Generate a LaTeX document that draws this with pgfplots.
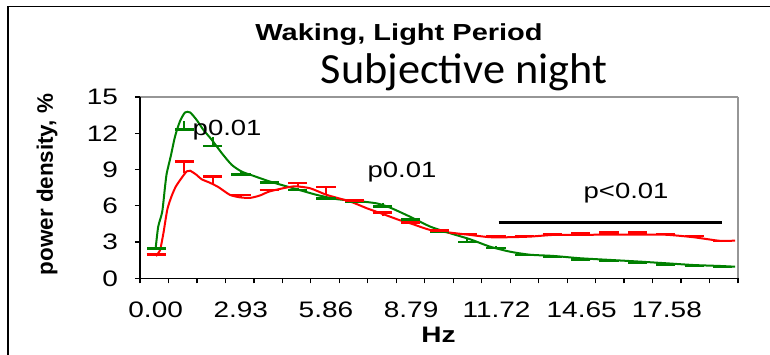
\documentclass[border=0pt]{standalone}
\usepackage{fontspec}
\setmainfont{Liberation Sans}[FakeStretch=1.25]
\newfontfamily\plainsans{Liberation Sans}
\newfontfamily\subjfont{Carlito}[FakeStretch=1.03]
\usepackage{pgfplots}
\pgfplotsset{compat=1.18}
\definecolor{xlgreen}{RGB}{0,128,0}
\definecolor{xlred}{RGB}{255,0,0}
\definecolor{framegray}{RGB}{150,150,150}

\begin{document}
\begin{tikzpicture}
\useasboundingbox (-70pt,-37.85pt) rectangle (315pt,139.15pt);
\draw[line width=0.6pt] (-66pt,-60pt) -- (-66pt,135.9pt) -- (340pt,135.9pt);

\begin{axis}[
    scale only axis,
    width=299pt, height=90.65pt,
    xmin=0, xmax=21, ymin=0, ymax=15,
    axis line style={draw=none},
    tick align=outside,
    xtick pos=left, ytick pos=left,
    xtick={0,1,...,21},
    xticklabels={},
    extra x ticks={0.55,3.54,6.53,9.52,12.52,15.51,18.5},
    extra x tick labels={0.00,2.93,5.86,8.79,11.72,14.65,17.58},
    extra x tick style={major tick length=0pt, tick style={draw=none}},
    ytick={0,3,...,15},
    major tick length=2.5pt,
    tick style={black, line width=0.6pt},
    /pgf/number format/assume math mode=true,
    ticklabel style={font=\fontsize{11.2}{13}\selectfont},
    xticklabel style={yshift=-8pt},
    yticklabel style={xshift=-5pt},
    clip=false,
]
\draw[framegray, line width=0.8pt] (axis cs:0,15) -- (axis cs:21,15);
\draw[framegray, line width=1.2pt] (axis cs:21,15) -- (axis cs:21,0);
\draw[black, line width=0.7pt] (axis cs:0,15) -- (axis cs:0,0) -- (axis cs:21,0);

% green curve
\addplot[xlgreen, line width=1pt, smooth, tension=0.4] coordinates {
    (0.55,2.49) (0.64,4.28) (0.78,5.5) (0.88,7.6) (0.94,8.7) (1.08,10.1)
    (1.23,11.73) (1.40,12.97) (1.58,13.72) (1.76,13.72) (1.99,13.1)
    (2.22,12.3) (2.52,11.46) (2.87,10.36) (3.22,9.39) (3.57,8.83)
    (3.98,8.48) (4.57,8.0) (5.38,7.45) (6.21,6.9) (6.91,6.55) (7.61,6.4)
    (8.31,6.2) (8.78,5.85) (9.48,5.1) (10.19,4.28) (10.89,3.73)
    (11.59,3.23) (12.29,2.62) (13.0,2.2) (13.70,1.95) (14.52,1.85)
    (15.45,1.66) (16.51,1.52) (17.56,1.38) (18.5,1.24) (19.43,1.1)
    (20.37,1.02) (20.9,0.96)
};

% red curve
\addplot[xlred, line width=1pt, smooth, tension=0.4] coordinates {
    (0.56,1.85) (0.70,2.3) (0.82,3.7) (0.96,5.7) (1.11,6.8) (1.26,7.6)
    (1.46,8.3) (1.64,8.85) (1.76,8.9) (1.99,8.55) (2.16,8.2) (2.46,7.9)
    (2.75,7.55) (3.16,6.9) (3.51,6.7) (3.86,6.65) (4.21,6.85) (4.57,7.2)
    (5.38,7.6) (5.97,7.45) (6.56,6.9) (7.38,6.35) (7.96,5.8) (8.55,5.3)
    (9.13,4.8) (9.48,4.56) (10.19,4.0) (10.89,3.78) (11.59,3.59)
    (12.29,3.4) (13.0,3.4) (13.70,3.45) (14.52,3.59) (15.45,3.59)
    (16.51,3.62) (17.56,3.62) (18.5,3.6) (19.43,3.4) (20.37,3.1)
    (20.9,3.12)
};

% green error bars (minus)
\addplot[draw=none, mark=none,
    error bars/.cd, y dir=minus, y explicit,
    error bar style={draw=xlgreen, solid, line width=1pt},
    error mark options={rotate=90, draw=xlgreen, mark size=4.8pt, line width=1.3pt}]
coordinates {
    (0.57,2.52) +- (0,0.04)  (1.56,13.0) +- (0,0.7)  (2.55,11.7) +- (0,0.75)
    (3.55,8.85) +- (0,0.25)  (4.54,8.05) +- (0,0.14) (5.54,7.45) +- (0,0.14)
    (6.53,6.75) +- (0,0.14)  (7.52,6.42) +- (0,0.12) (8.52,6.25) +- (0,0.3)
    (9.51,5.05) +- (0,0.17)  (10.51,4.05) +- (0,0.17) (11.5,3.3) +- (0,0.3)
    (12.5,2.68) +- (0,0.18)  (13.49,2.04) +- (0,0.1) (14.48,1.86) +- (0,0.1)
    (15.48,1.68) +- (0,0.1)  (16.47,1.53) +- (0,0.1) (17.47,1.39) +- (0,0.1)
    (18.46,1.25) +- (0,0.1)  (19.46,1.12) +- (0,0.1) (20.45,1.02) +- (0,0.1)
};

% red error bars (plus)
\addplot[draw=none, mark=none,
    error bars/.cd, y dir=plus, y explicit,
    error bar style={draw=xlred, solid, line width=1pt},
    error mark options={rotate=90, draw=xlred, mark size=4.8pt, line width=1.3pt}]
coordinates {
    (0.57,1.85) +- (0,0.13)  (1.56,8.7) +- (0,0.95)  (2.55,7.75) +- (0,0.67)
    (3.55,6.7) +- (0,0.2)    (4.54,7.15) +- (0,0.14) (5.54,7.6) +- (0,0.3)
    (6.53,7.0) +- (0,0.55)   (7.52,6.3) +- (0,0.12)  (8.52,5.15) +- (0,0.3)
    (9.51,4.52) +- (0,0.1)   (10.51,3.85) +- (0,0.1) (11.5,3.58) +- (0,0.1)
    (12.5,3.4) +- (0,0.1)    (13.49,3.4) +- (0,0.1)  (14.48,3.57) +- (0,0.1)
    (15.48,3.58) +- (0,0.12) (16.47,3.6) +- (0,0.2)  (17.47,3.6) +- (0,0.2)
    (18.46,3.58) +- (0,0.1)  (19.46,3.4) +- (0,0.1)  (20.45,3.0) +- (0,0.08)
};

\draw[black, line width=1.5pt] (axis cs:12.59,4.64) -- (axis cs:20.44,4.64);
\node[anchor=base, font=\fontsize{11}{13}\selectfont] at (axis cs:3.06,11.79) {p0.01};
\node[anchor=base, font=\fontsize{11}{13}\selectfont] at (axis cs:9.2,8.31) {p0.01};
\node[anchor=base, font=\fontsize{11}{13}\selectfont] at (axis cs:17.07,6.57) {p<0.01};
\end{axis}

\node[anchor=base, font=\fontsize{11.6}{13}\selectfont\bfseries] at (129.5pt,118.8pt) {Waking, Light Period};
\node[anchor=base, font=\fontsize{21.5}{24}\selectfont\subjfont] at (162pt,97.65pt) {Subjective night};
\node[rotate=90, font=\fontsize{11.2}{13}\selectfont\plainsans\bfseries] at (-46.5pt,46.9pt) {power density, \%};
\node[anchor=base, font=\fontsize{11.2}{13}\selectfont\bfseries] at (149.25pt,-31.85pt) {Hz};
\end{tikzpicture}
\end{document}
